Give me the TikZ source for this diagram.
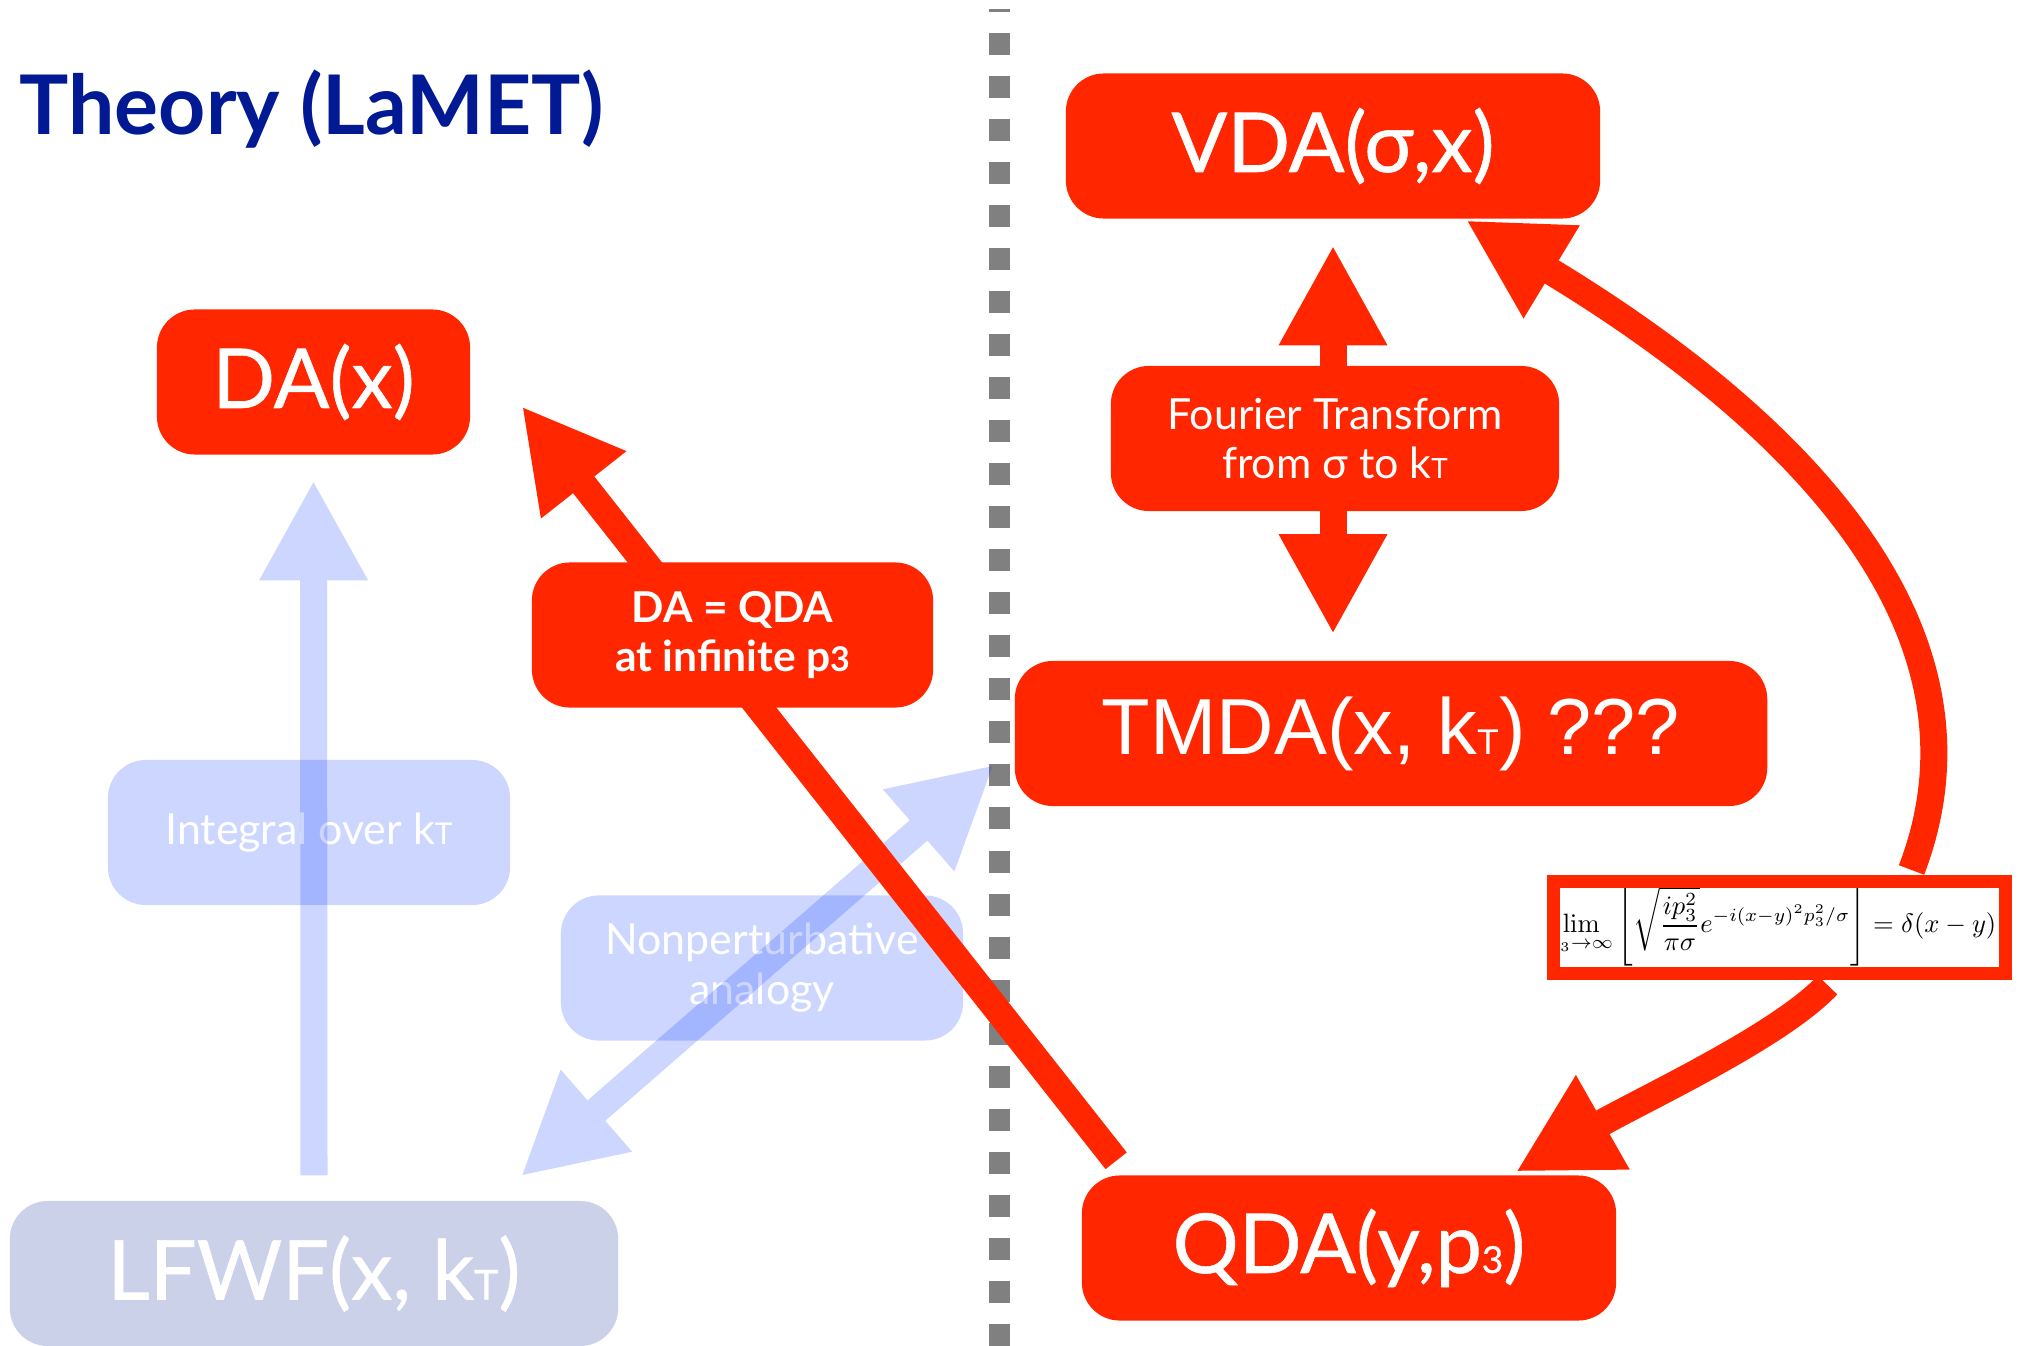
\documentclass[tikz,border=0pt]{standalone}
\usepackage[no-math]{fontspec}
\newfontfamily\lato{Lato}
\newfontfamily\latomed[FakeBold=0.7]{Lato}
\newfontfamily\helv{Liberation Sans}
\usetikzlibrary{positioning, arrows.meta, calc}
\definecolor{keyred}{RGB}{255,38,0}
\definecolor{midnight}{RGB}{1,25,147}
\definecolor{keyblue}{RGB}{4,51,255}
\definecolor{lfwfgray}{RGB}{204,209,234}
\definecolor{dashgray}{RGB}{128,128,128}
\newcommand{\fatarrow}{-{Triangle[length=1cm,width=1.01cm]}}
\newcommand{\fatboth}{{Triangle[length=1cm,width=1.01cm]}-{Triangle[length=1cm,width=1.01cm]}}
\newcommand{\bigfont}{\latomed\fontsize{23.5}{27}\selectfont}
\newcommand{\smallfont}{\lato\fontsize{12.2}{14.2}\selectfont}
\newcommand{\limformula}{\scalebox{0.755}{$\displaystyle
  \lim_{p_3\to\infty}\left[\sqrt{\frac{ip_3^2}{\pi\sigma}}e^{-i(x-y)^2p_3^2/\sigma}\right]=\delta(x-y)$}}
\pgfdeclarelayer{background}
\pgfsetlayers{background,main}
\tikzset{
  redbox/.style={rectangle, rounded corners=0.38cm, fill=keyred, text=white,
    inner sep=0pt, minimum height=1.45cm},
  bluebox/.style={rectangle, rounded corners=0.38cm, fill=keyblue, fill opacity=0.2,
    text opacity=1, text=white, inner sep=0pt, minimum height=1.45cm},
  graybox/.style={rectangle, rounded corners=0.38cm, fill=lfwfgray, text=white,
    inner sep=0pt, minimum height=1.45cm},
  redline/.style={draw=keyred, line width=0.27cm},
  blueline/.style={draw=keyblue, line width=0.27cm},
  formbox/.style={rectangle, draw=keyred, line width=0.13cm, fill=white,
    minimum width=4.52cm, minimum height=0.92cm, inner sep=0pt,
    path picture={\node[anchor=east, inner sep=0pt] at ([shift={(226,-1.5)}]path picture bounding box.center) {\limformula};}},
}

\begin{document}
\begin{tikzpicture}[x=0.01cm, y=-0.01cm]
    \useasboundingbox (0,0) rectangle (2019,1346);
    % separator
    \draw[dashgray, line width=0.21cm, dash pattern=on 0.22cm off 0.21cm, dash phase=0.19cm]
        (999,9) -- (999,1346);
    \node[anchor=base west, inner sep=0pt, text=midnight, font=\lato\bfseries\fontsize{23.4}{28}\selectfont]
        (title) at (19,135) {Theory (LaMET)};

    % boxes
    \node[redbox, minimum width=3.13cm, font=\bigfont] (dax) at (313.5,382) {DA(x)};
    \node[redbox, minimum width=5.34cm, font=\bigfont] (vda) at (1333,146) {VDA(σ,x)};
    \node[redbox, minimum width=7.52cm, font=\helv\fontsize{22.6}{26}\selectfont]
        (tmda) at (1391,733.5) {TMDA(x, k\scalebox{0.45}{T}) ???};
    \node[redbox, minimum width=5.34cm, font=\bigfont] (qda) at (1349,1248) {QDA(y,p\scalebox{0.45}{3})};
    \node[graybox, minimum width=6.08cm, font=\bigfont] (lfwf) at (314,1273.5) {LFWF(x, k\scalebox{0.5}{T})};
    \node[bluebox, minimum width=4.02cm, font=\smallfont] (integral) at (309,832.5) {Integral over k\scalebox{0.7}{T}};
    \node[bluebox, minimum width=4.02cm, font=\smallfont, align=center]
        (nonpert) at (762,968) {Nonperturbative\\analogy};

    % blue arrows
    \begin{scope}[transparency group, opacity=0.2]
        \draw[blueline, \fatarrow] ([shift={(0,-25)}]lfwf.north) -- ([shift={(0,25)}]dax.south);
        \draw[blueline, \fatboth] ([shift={(-98,-24)}]lfwf.north east) -- ([shift={(-20,-42)}]tmda.south west);
    \end{scope}

    % QDA to DA
    \draw[redline, \fatarrow] ([shift={(35,-14)}]qda.north west) -- ([shift={(51,-49)}]dax.south east);
    \node[redbox, minimum width=4.01cm, align=center, font=\lato\bfseries\fontsize{12.1}{14.2}\selectfont]
        (daqda) at (732.5,635) {DA = QDA\\at infinite p\scalebox{0.8}{3}};

    % Fourier
    \coordinate (ftbot) at (vda.south |- tmda.north);
    \draw[redline, \fatboth] ([shift={(0,26)}]vda.south) -- ([shift={(0,-26)}]ftbot);
    \node[redbox, minimum width=4.48cm, align=center, font=\smallfont]
        (fourier) at (1335,438.5) {Fourier Transform\\from σ to k\scalebox{0.65}{T}};

    % limit
    \node[formbox] (lim) at (1779.5,927.5) {};
    \begin{pgfonlayer}{background}
        \draw[redline, \fatarrow] ([shift={(132,-5)}]lim.north) .. controls +(98,-256) and +(300,181) .. ([shift={(133,1)}]vda.south);
        \draw[redline, \fatarrow] ([shift={(48,5)}]lim.south) .. controls +(-48,51) and +(130,-74) .. ([shift={(-101,-3)}]qda.north east);
    \end{pgfonlayer}
\end{tikzpicture}
\end{document}
